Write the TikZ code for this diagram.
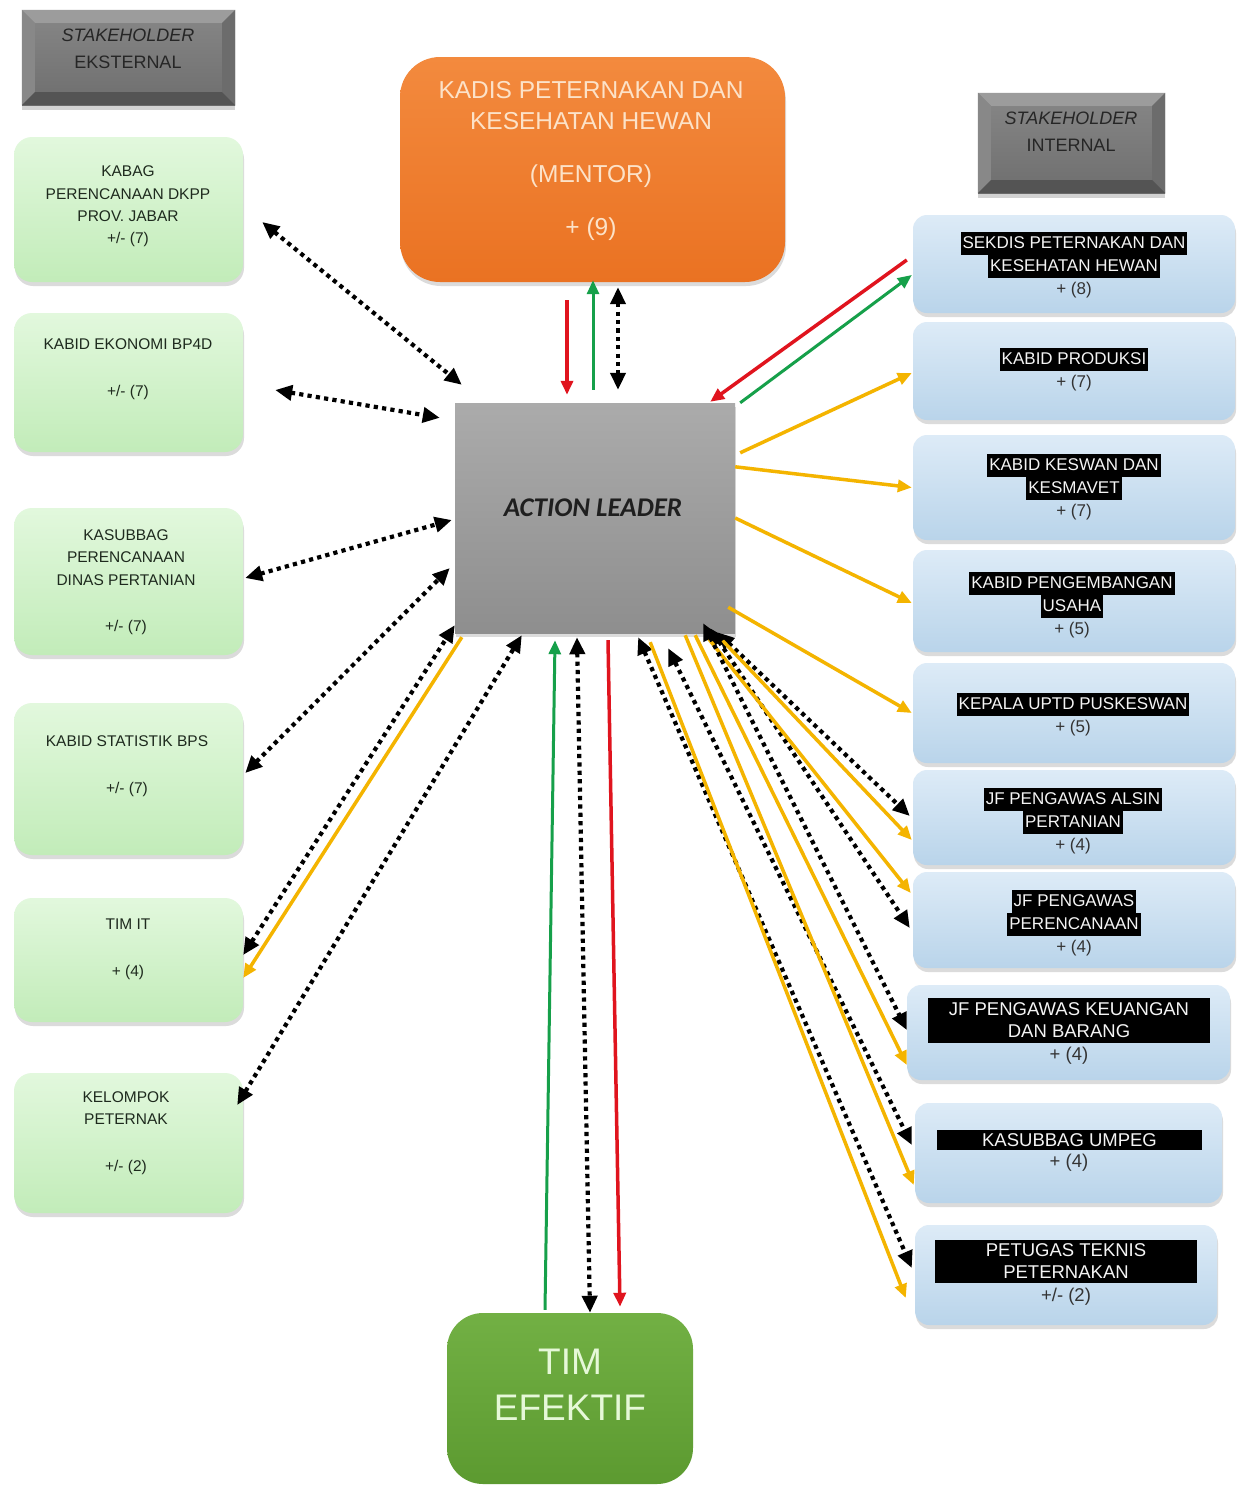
\documentclass[tikz,border=0pt]{standalone}
\usepackage{fontspec}
\setmainfont{Liberation Sans}
\newfontfamily\calfont{Carlito}
\usetikzlibrary{arrows.meta,shadows}
\definecolor{gtop}{HTML}{E2F8DD}
\definecolor{gbot}{HTML}{C2ECB9}
\definecolor{btop}{HTML}{DDEBF7}
\definecolor{bbot}{HTML}{B9D4EA}
\definecolor{otop}{HTML}{F38A3E}
\definecolor{obot}{HTML}{EA7222}
\definecolor{altop}{HTML}{ABABAB}
\definecolor{albot}{HTML}{8E8E8E}
\definecolor{ttop}{HTML}{72B044}
\definecolor{tbot}{HTML}{5C9A30}
\definecolor{hctop}{HTML}{878787}
\definecolor{hcbot}{HTML}{6E6E6E}
\definecolor{hlt}{HTML}{9C9C9C}
\definecolor{hsideL}{HTML}{888888}
\definecolor{hsideR}{HTML}{6C6C6C}
\definecolor{hdark}{HTML}{545454}
\definecolor{htext}{HTML}{262626}
\definecolor{ltextc}{HTML}{1E2A1E}
\definecolor{plusgray}{HTML}{333333}
\definecolor{hltext}{HTML}{F4F4F4}
\definecolor{kadistext}{HTML}{FCE2C8}
\definecolor{timtext}{HTML}{E6F8D8}
\definecolor{amber}{HTML}{F4B400}
\definecolor{redarr}{HTML}{E0141E}
\definecolor{greenarr}{HTML}{16A04A}
\newcommand\hlx[1]{{\setlength\fboxsep{0pt}\colorbox{black}{\strut\kern2pt\textcolor{hltext}{#1}\kern2pt}}}
\newcommand\bevelbox[2]{%
  \fill[hlt] (#1.north west) -- (#1.north east) -- ([shift={(-#2,#2)}]#1.north east) -- ([shift={(#2,#2)}]#1.north west) -- cycle;
  \fill[hsideL] (#1.north west) -- ([shift={(#2,#2)}]#1.north west) -- ([shift={(#2,-#2)}]#1.south west) -- (#1.south west) -- cycle;
  \fill[hsideR] (#1.north east) -- ([shift={(-#2,#2)}]#1.north east) -- ([shift={(-#2,-#2)}]#1.south east) -- (#1.south east) -- cycle;
  \fill[hdark] (#1.south west) -- (#1.south east) -- ([shift={(-#2,-#2)}]#1.south east) -- ([shift={(#2,-#2)}]#1.south west) -- cycle;
}
\begin{document}
\begin{tikzpicture}[x=1pt,y=-1pt,
  shad/.style={drop shadow={shadow xshift=1pt,shadow yshift=-4pt,opacity=0.28}},
  greenbox/.style={rounded corners=18pt, top color=gtop, bottom color=gbot, minimum width=229pt, inner sep=0, shad},
  bluebox/.style={rounded corners=14pt, top color=btop, bottom color=bbot, minimum width=322pt, inner sep=0, shad},
  hdr/.style={top color=hctop, bottom color=hcbot, inner sep=0, drop shadow={shadow xshift=0pt,shadow yshift=-5pt,opacity=0.35}},
  lt/.style={align=center, inner sep=0, text=ltextc, font=\fontsize{15.5}{22.3}\selectfont},
  rt/.style={align=center, inner sep=0, text=plusgray, font=\fontsize{17}{23}\selectfont},
  rplus/.style={inner sep=0, text=plusgray, font=\fontsize{18.5}{22}\selectfont},
  hlbar/.style={fill=black, inner sep=0, align=center, text=hltext, font=\fontsize{18.5}{22}\selectfont},
  ht/.style={align=center, inner sep=0, text=htext, font=\fontsize{18}{27}\selectfont},
  bidot/.style={draw=black, line width=4.2pt, dash pattern=on 4.2pt off 4.2pt, {Triangle[length=17pt,width=15pt]}-{Triangle[length=17pt,width=15pt]}},
  yarr/.style={draw=amber, line width=3.5pt, -{Triangle[length=14pt,width=12pt]}},
  rarr/.style={draw=redarr, line width=3.5pt, -{Triangle[length=14pt,width=12pt]}},
  garr/.style={draw=greenarr, line width=3pt, -{Triangle[length=14pt,width=12pt]}}]
\useasboundingbox (0,0) rectangle (1245,1486);
\fill[white] (0,0) rectangle (1245,1486);

% headers
\node[hdr, minimum width=213pt, minimum height=95pt] (ext) at (128.5,57.5) {};
\bevelbox{ext}{13}
\node[ht] (ext-t) at (128,48.5) {{\itshape STAKEHOLDER}\\EKSTERNAL};
\node[hdr, minimum width=187pt, minimum height=100pt] (int) at (1071.5,143) {};
\bevelbox{int}{13}
\node[ht] (int-t) at (1071,132) {{\itshape STAKEHOLDER}\\INTERNAL};

% left boxes
\node[greenbox, minimum height=145pt] (kabag) at (128.5,209.5) {};
\node[greenbox, minimum height=139pt] (ekonomi) at (128.5,382.5) {};
\node[greenbox, minimum height=147pt] (kasubbag) at (128.5,581.5) {};
\node[greenbox, minimum height=152pt] (statistik) at (128.5,779) {};
\node[greenbox, minimum height=124pt] (timit) at (128.5,960) {};
\node[greenbox, minimum height=140pt] (kelompok) at (128.5,1143) {};
\node[lt] (kabag-t) at (128,206.5) {KABAG\\PERENCANAAN DKPP\\PROV. JABAR\\+/- (7)};
\node[lt] (ekonomi-t) at (128,369.5) {KABID EKONOMI BP4D\\[24.7pt]+/- (7)};
\node[lt] (kasubbag-t) at (126,582) {KASUBBAG\\PERENCANAAN\\DINAS PERTANIAN\\[23.7pt]+/- (7)};
\node[lt] (statistik-t) at (127,766.5) {KABID STATISTIK BPS\\[24.7pt]+/- (7)};
\node[lt] (timit-t) at (128,949.5) {TIM IT\\[24.7pt]+ (4)};
\node[lt] (kelompok-t) at (126,1133.5) {KELOMPOK\\PETERNAK\\[24.7pt]+/- (2)};

% centre
\node[rounded corners=40pt, top color=otop, bottom color=obot, minimum width=385pt, minimum height=225pt, inner sep=0, shad] (kadis) at (592.5,169.5) {};
\node[align=center, inner sep=0, text=kadistext, font=\fontsize{24.5}{31}\selectfont] (kadis-t) at (591,161) {KADIS PETERNAKAN DAN\\KESEHATAN HEWAN\\[22pt](MENTOR)\\[22pt]+ (9)};
\node[top color=altop, bottom color=albot, minimum width=280pt, minimum height=230pt, inner sep=0, shad] (al) at (595,518) {};
\node[inner sep=0, text=black!88, font=\calfont\bfseries\itshape\fontsize{27}{30}\selectfont] (al-t) at (593,508) {ACTION LEADER};
\node[rounded corners=36pt, top color=ttop, bottom color=tbot, minimum width=246pt, minimum height=171pt, inner sep=0] (tim) at (570,1398.5) {};
\node[align=center, inner sep=0, text=timtext, font=\fontsize{37}{46}\selectfont] (tim-t) at (570,1385) {TIM\\EFEKTIF};

% right boxes
\node[bluebox, minimum height=98pt] (sekdis) at (1074,264) {};
\node[bluebox, minimum height=98pt] (produksi) at (1074,371) {};
\node[bluebox, minimum height=105pt] (keswan) at (1074,487.5) {};
\node[bluebox, minimum height=102pt] (pengembangan) at (1074,601) {};
\node[bluebox, minimum height=100pt] (uptd) at (1074,713) {};
\node[bluebox, minimum height=95pt] (alsin) at (1074,817.5) {};
\node[bluebox, minimum height=96pt] (perenc) at (1074,920) {};
\node[bluebox, minimum width=323pt, minimum height=95pt] (keuangan) at (1068.5,1032.5) {};
\node[bluebox, minimum width=307pt, minimum height=100pt] (umpeg) at (1068.5,1153) {};
\node[bluebox, minimum width=302pt, minimum height=100pt] (petugas) at (1066,1275) {};

\node[rt] (sekdis-t) at (1074,265) {\hlx{SEKDIS PETERNAKAN DAN}\\\hlx{KESEHATAN HEWAN}\\+ (8)};
\node[rt] (produksi-t) at (1074,369.5) {\hlx{KABID PRODUKSI}\\+ (7)};
\node[rt] (keswan-t) at (1074,487) {\hlx{KABID KESWAN DAN}\\\hlx{KESMAVET}\\+ (7)};
\node[rt] (pengembangan-t) at (1072,605) {\hlx{KABID PENGEMBANGAN}\\\hlx{USAHA}\\+ (5)};
\node[rt] (uptd-t) at (1073,714.5) {\hlx{KEPALA UPTD PUSKESWAN}\\+ (5)};
\node[rt] (alsin-t) at (1073,821) {\hlx{JF PENGAWAS ALSIN}\\\hlx{PERTANIAN}\\+ (4)};
\node[rt] (perenc-t) at (1074,923) {\hlx{JF PENGAWAS}\\\hlx{PERENCANAAN}\\+ (4)};
\node[hlbar, minimum width=282pt, minimum height=45pt] (keuangan-t) at (1069,1020.5) {JF PENGAWAS KEUANGAN\\DAN BARANG};
\node[rplus] (keuangan-n) at (1069,1056) {+ (4)};
\node[hlbar, minimum width=265pt, minimum height=20pt] (umpeg-t) at (1069.5,1140) {KASUBBAG UMPEG};
\node[rplus] (umpeg-n) at (1069,1163) {+ (4)};
\node[hlbar, minimum width=262pt, minimum height=43pt] (petugas-t) at (1066,1261.5) {PETUGAS TEKNIS\\PETERNAKAN};
\node[rplus] (petugas-n) at (1066,1297) {+/- (2)};

% left connectors
\draw[bidot] ([shift={(19,12.5)}]kabag.east) -- ([shift={(7,-18)}]al.north west);
\draw[bidot] ([shift={(32,7.5)}]ekonomi.east) -- ([shift={(-15,15)}]al.north west);
\draw[bidot] ([shift={(2,-3.5)}]kasubbag.east) -- ([shift={(-3,2)}]al.west);
\draw[bidot] ([shift={(2,-6)}]statistik.east) -- ([shift={(-5,50)}]al.west);
\draw[bidot] ([shift={(0,-5)}]timit.east) -- ([shift={(0,-8)}]al.south west);
\draw[yarr] ([shift={(7,4)}]al.south west) -- ([shift={(0,18)}]timit.east);
\draw[bidot] ([shift={(-6,-38)}]kelompok.east) -- ([shift={(67,2)}]al.south west);

% top connectors
\draw[rarr] ([shift={(-25.5,18)}]kadis.south) -- ([shift={(-28,-8)}]al.north);
\draw[garr] ([shift={(-2,-13)}]al.north) -- ([shift={(0.5,-2)}]kadis.south);
\draw[bidot] ([shift={(25.5,5)}]kadis.south) -- ([shift={(23,-13)}]al.north);

% bottom connectors
\draw[garr] ([shift={(-25,-3)}]tim.north) -- ([shift={(-40,7)}]al.south);
\draw[bidot] ([shift={(-18,4)}]al.south) -- ([shift={(20,0)}]tim.north);
\draw[rarr] ([shift={(13,7)}]al.south) -- ([shift={(50,-6)}]tim.north);

% right connectors
\draw[rarr] ([shift={(-6,-4)}]sekdis.west) -- ([shift={(-25,-1)}]al.north east);
\draw[garr] ([shift={(5,0)}]al.north east) -- ([shift={(-1,11)}]sekdis.west);
\draw[yarr] ([shift={(5,50)}]al.north east) -- ([shift={(-1,2)}]produksi.west);
\draw[yarr] ([shift={(0,64)}]al.north east) -- ([shift={(-1,0)}]keswan.west);
\draw[yarr] (al.east) -- ([shift={(-1,2)}]pengembangan.west);
\draw[yarr] ([shift={(-7,-26)}]al.south east) -- ([shift={(-1,0)}]uptd.west);
\draw[bidot] ([shift={(-18,-1)}]al.south east) -- ([shift={(-3,-1.5)}]alsin.west);
\draw[yarr] ([shift={(-13,7)}]al.south east) -- ([shift={(-1,22.5)}]alsin.west);
\draw[bidot] ([shift={(-25,-5)}]al.south east) -- ([shift={(-3,8)}]perenc.west);
\draw[yarr] ([shift={(-27,5)}]al.south east) -- ([shift={(-2,-27)}]perenc.west);
\draw[bidot] ([shift={(-32,-10)}]al.south east) -- ([shift={(0,-2.5)}]keuangan.west);
\draw[yarr] ([shift={(-40,2)}]al.south east) -- ([shift={(0,32.5)}]keuangan.west);
\draw[bidot] ([shift={(-67,15)}]al.south east) -- ([shift={(-3,-8)}]umpeg.west);
\draw[yarr] ([shift={(-50,2)}]al.south east) -- ([shift={(-1,32)}]umpeg.west);
\draw[bidot] ([shift={(-97,4)}]al.south east) -- ([shift={(-3,-7)}]petugas.west);
\draw[yarr] ([shift={(-85,9)}]al.south east) -- ([shift={(-9,23)}]petugas.west);
\end{tikzpicture}
\end{document}
